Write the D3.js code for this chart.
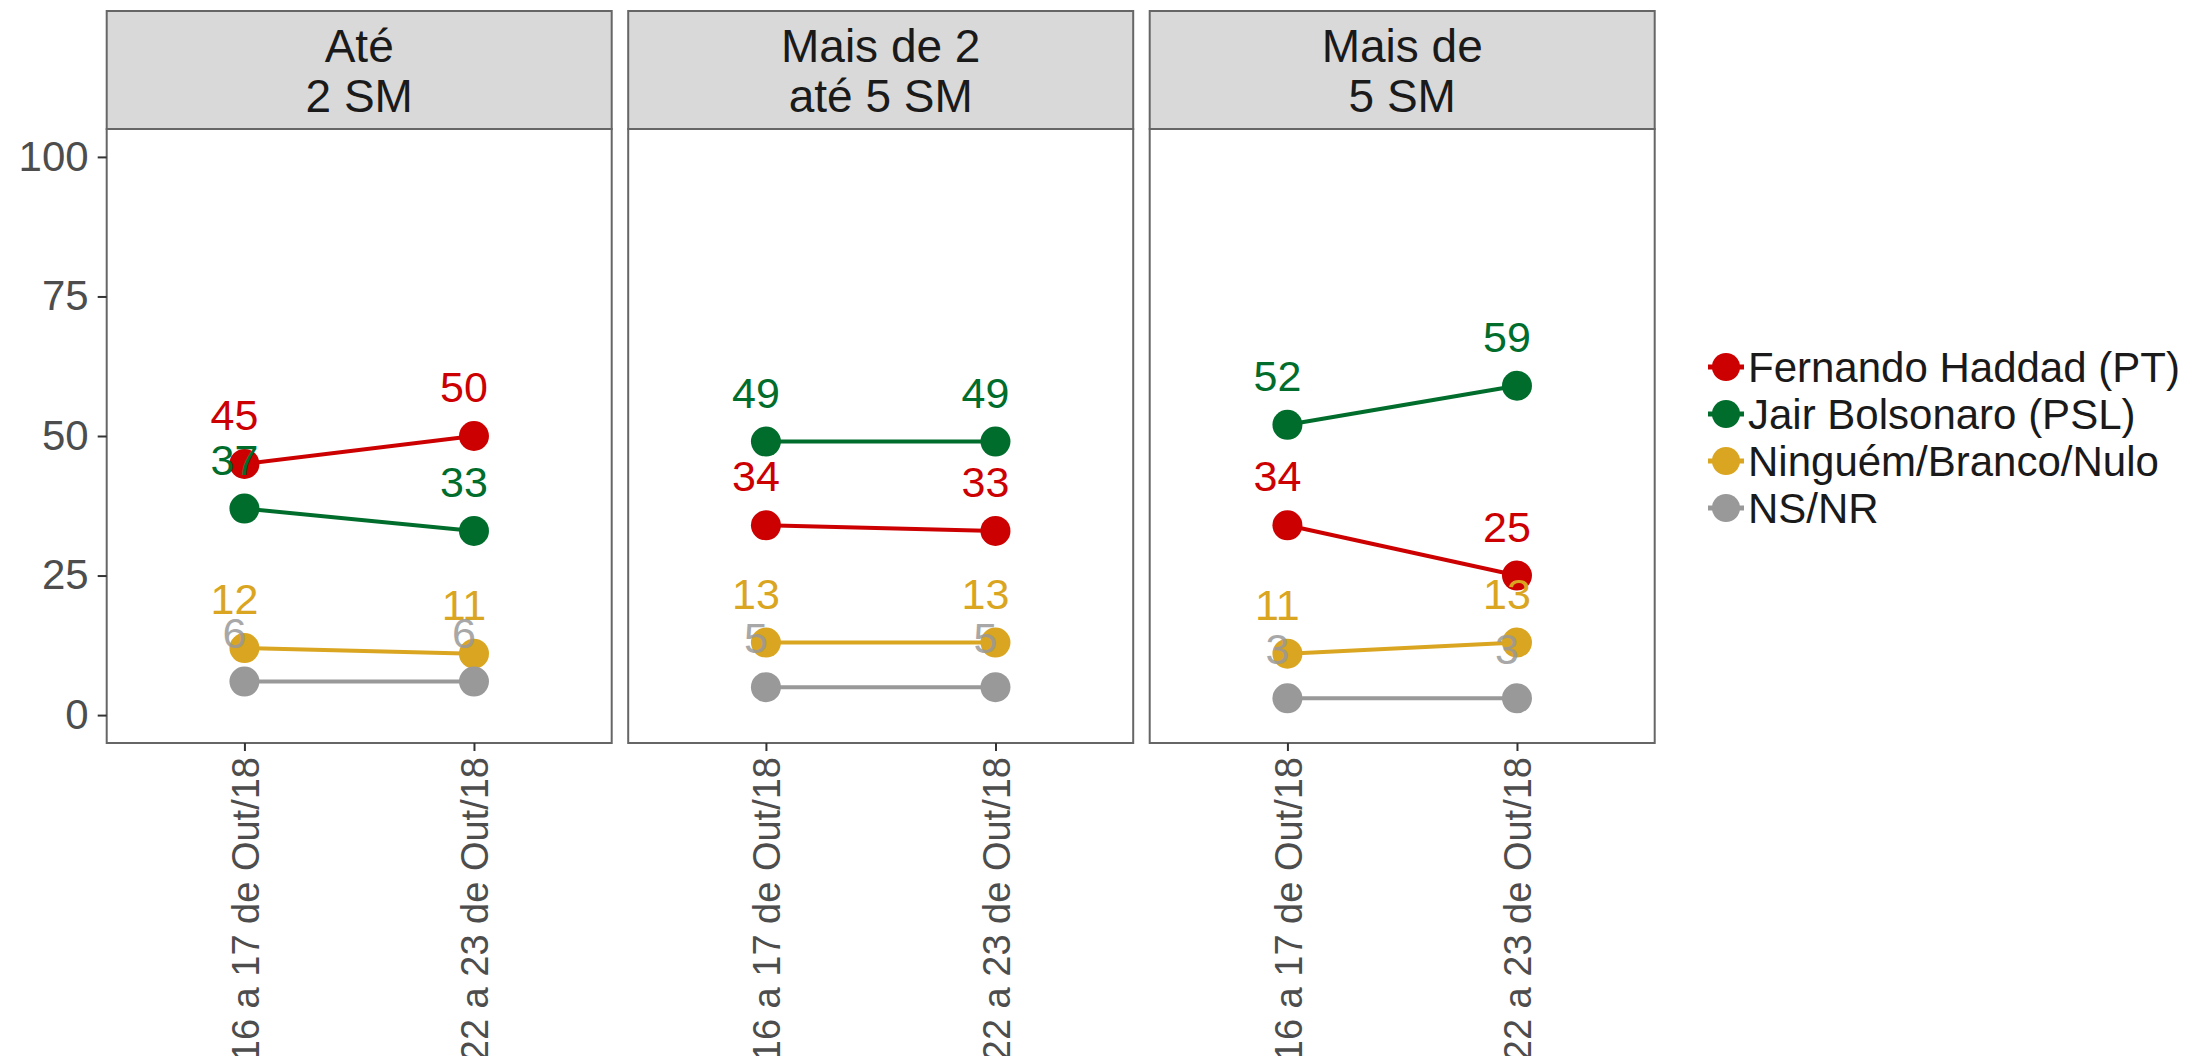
<!DOCTYPE html>
<html>
<head>
<meta charset="utf-8">
<script src="https://cdn.jsdelivr.net/npm/d3@7"></script>
<style>
  body { margin: 0; background: #fff; }
  text { font-family: "Liberation Sans", Arial, sans-serif; }
</style>
</head>
<body>
<script>
// data
var periods = ["16 a 17 de Out/18", "22 a 23 de Out/18"];
var panels = [["Até", "2 SM"], ["Mais de 2", "até 5 SM"], ["Mais de", "5 SM"]];
var seriesNames = ["Fernando Haddad (PT)", "Jair Bolsonaro (PSL)", "Ninguém/Branco/Nulo", "NS/NR"];
var seriesColors = ["#CC0000", "#006D2C", "#DAA520", "#999999"];
var haddad = [[45, 50], [34, 33], [34, 25]];
var bolsonaro = [[37, 33], [49, 49], [52, 59]];
var ninguem = [[12, 11], [13, 13], [11, 13]];
var nsnr = [[6, 6], [5, 5], [3, 3]];
var yTicks = [0, 25, 50, 75, 100];

var allSeries = [haddad, bolsonaro, ninguem, nsnr];

var width = 2197, height = 1056;
var panelLeft = 106.7, panelW = 505, panelGap = 16.5;
var stripTop = 11, panelTop = 129, panelBottom = 743;

var svg = d3.select("body")
            .append("svg")
            .attr("width", width)
            .attr("height", height);

//discrete x with ggplot style expansion
var xScale = d3.scalePoint()
               .domain(periods)
               .range([0, panelW])
               .padding(0.6);

var yScale = d3.scaleLinear()
               .domain([-5, 105])
               .range([panelBottom, panelTop]);

var line = d3.line()
             .x(function(d, i) { return xScale(periods[i]); })
             .y(function(d) { return yScale(d); });

panels.forEach(function(p, pi) {
  var x0 = panelLeft + pi * (panelW + panelGap);
  var g = svg.append("g").attr("transform", "translate(" + x0 + ",0)");

  //strip
  g.append("rect")
   .attr("x", 0).attr("y", stripTop)
   .attr("width", panelW).attr("height", panelTop - stripTop)
   .attr("fill", "#d9d9d9")
   .attr("stroke", "#666").attr("stroke-width", 2);

  g.selectAll(".strip-text")
   .data(p)
   .enter()
   .append("text")
   .attr("x", panelW / 2)
   .attr("y", function(d, i) { return 62 + i * 50; })
   .attr("text-anchor", "middle")
   .attr("font-size", 46)
   .attr("fill", "#1a1a1a")
   .text(function(d) { return d; });

  //panel
  g.append("rect")
   .attr("x", 0).attr("y", panelTop)
   .attr("width", panelW).attr("height", panelBottom - panelTop)
   .attr("fill", "#fff")
   .attr("stroke", "#666").attr("stroke-width", 2);

  //x axis
  var xAxis = d3.axisBottom(xScale).tickSize(8).tickPadding(6);
  var xa = g.append("g")
            .attr("transform", "translate(0," + panelBottom + ")")
            .call(xAxis);
  xa.select(".domain").remove();
  xa.selectAll("line").attr("stroke", "#333").attr("stroke-width", 2);
  xa.selectAll("text")
    .attr("font-size", 38)
    .attr("fill", "#4d4d4d")
    .attr("transform", "rotate(-90)")
    .attr("x", -14)
    .attr("y", 0)
    .attr("dy", "0.36em")
    .attr("text-anchor", "end")
    .style("font-family", "'Liberation Sans', Arial, sans-serif");

  //lines
  allSeries.forEach(function(s, si) {
    g.append("path")
     .datum(s[pi])
     .attr("d", line)
     .attr("fill", "none")
     .attr("stroke", seriesColors[si])
     .attr("stroke-width", 4);
  });

  //points
  allSeries.forEach(function(s, si) {
    g.selectAll(".pt" + si)
     .data(s[pi])
     .enter()
     .append("circle")
     .attr("cx", function(d, i) { return xScale(periods[i]); })
     .attr("cy", function(d) { return yScale(d); })
     .attr("r", 15)
     .attr("fill", seriesColors[si]);
  });

  //value labels
  allSeries.forEach(function(s, si) {
    g.selectAll(".lb" + si)
     .data(s[pi])
     .enter()
     .append("text")
     .attr("x", function(d, i) { return xScale(periods[i]) - 10; })
     .attr("y", function(d) { return yScale(d) - 34; })
     .attr("text-anchor", "middle")
     .attr("font-size", 43)
     .attr("fill", seriesColors[si])
     .attr("opacity", si == 3 ? 0.85 : 1)
     .text(function(d) { return d; });
  });
});

//y axis
var yAxis = d3.axisLeft(yScale).tickValues(yTicks).tickSize(9).tickPadding(9);
var ya = svg.append("g")
            .attr("transform", "translate(" + panelLeft + ",0)")
            .call(yAxis);
ya.select(".domain").remove();
ya.selectAll("line").attr("stroke", "#333").attr("stroke-width", 2);
ya.selectAll("text")
  .attr("font-size", 42)
  .attr("fill", "#4d4d4d")
  .style("font-family", "'Liberation Sans', Arial, sans-serif");

//legend
var legend = svg.append("g").attr("transform", "translate(1726,367)");
var rows = legend.selectAll(".key")
                 .data(seriesNames)
                 .enter()
                 .append("g")
                 .attr("transform", function(d, i) { return "translate(0," + (i * 47) + ")"; });
rows.append("line")
    .attr("x1", -18).attr("x2", 18)
    .attr("stroke", function(d, i) { return seriesColors[i]; })
    .attr("stroke-width", 5);
rows.append("circle")
    .attr("r", 14)
    .attr("fill", function(d, i) { return seriesColors[i]; });
rows.append("text")
    .attr("x", 22)
    .attr("dy", "0.36em")
    .attr("font-size", 42)
    .attr("fill", "#1a1a1a")
    .text(function(d) { return d; });
</script>
</body>
</html>
